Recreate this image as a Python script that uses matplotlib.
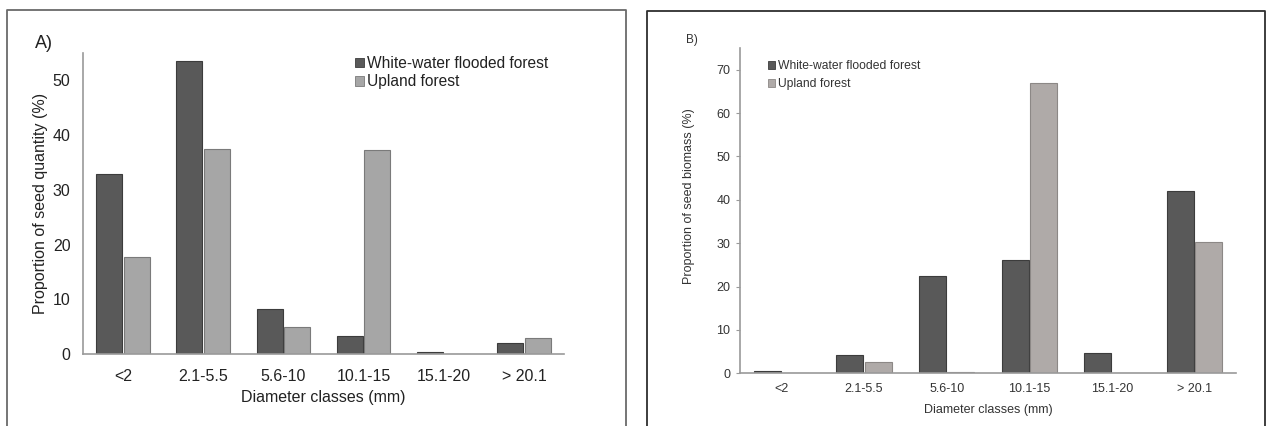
import numpy as np
import matplotlib.pyplot as plt
from matplotlib.lines import Line2D
from matplotlib.patches import Patch

plt.rcParams['font.family'] = ['Liberation Sans', 'DejaVu Sans']

# data
classes = ["<2", "2.1-5.5", "5.6-10", "10.1-15", "15.1-20", "> 20.1"]
series_names = ["White-water flooded forest", "Upland forest"]

# panel A: proportion of seed quantity (%)
quantity_flooded = [32.8, 53.6, 8.3, 3.2, 0.3, 2.1]
quantity_upland = [17.7, 37.4, 4.9, 37.2, 0.0, 2.9]

# panel B: proportion of seed biomass (%)
biomass_flooded = [0.5, 4.3, 22.5, 26.2, 4.6, 42.0]
biomass_upland = [0.1, 2.6, 0.2, 67.0, 0.0, 30.3]

dark = "#595959"
dark_edge = "#3c3c3c"
lightA = "#a6a6a6"
lightA_edge = "#7a7a7a"
lightB = "#afaaa8"
lightB_edge = "#8c8886"
axis_col = "#9a9a9a"

fig = plt.figure(figsize=(12.69, 4.26), dpi=100)
W, H = 1269, 426

# outer frames around each panel (bottom edge is off the image)
def frame(x0, x1, ytop, col, lw):
    xs = [x0 / W, x0 / W, x1 / W, x1 / W]
    ys = [-0.05, 1 - ytop / H, 1 - ytop / H, -0.05]
    fig.add_artist(Line2D(xs, ys, color=col, lw=lw, transform=fig.transFigure))

frame(7, 626, 10, "#6a6a6a", 1.3)
frame(647, 1265, 11, "#2e2e2e", 1.3)

x = np.arange(len(classes))
bw = 0.325
off = 0.172

# ---------------- panel A ----------------
axA = fig.add_axes([83 / W, 1 - 354 / H, (564 - 83) / W, (354 - 53) / H])
axA.bar(x - off, quantity_flooded, bw, color=dark, edgecolor=dark_edge, linewidth=0.8)
axA.bar(x + off, quantity_upland, bw, color=lightA, edgecolor=lightA_edge, linewidth=0.8)
axA.set_xlim(-0.5, 5.5)
axA.set_ylim(0, 55)
axA.set_yticks([0, 10, 20, 30, 40, 50])
axA.set_xticks(x)
axA.set_xticklabels(classes)
axA.tick_params(axis="x", length=0, pad=11, labelsize=11.5, labelcolor="#222222")
axA.tick_params(axis="y", length=0, pad=9, labelsize=11.5, labelcolor="#222222")
for s in ["top", "right"]:
    axA.spines[s].set_visible(False)
for s in ["left", "bottom"]:
    axA.spines[s].set_color(axis_col)
    axA.spines[s].set_linewidth(1.2)
axA.set_ylabel("Proportion of seed quantity (%)", fontsize=11.5, color="#222222")
axA.yaxis.set_label_coords(-0.073, 0.5)
axA.set_xlabel("Diameter classes (mm)", fontsize=11.5, color="#222222", va="center")
axA.xaxis.set_label_coords(0.5, -0.143)
handlesA = [Patch(facecolor=dark, edgecolor=dark_edge, linewidth=0.6),
            Patch(facecolor=lightA, edgecolor=lightA_edge, linewidth=0.6)]
fig.legend(handlesA, series_names, loc="upper left",
           bbox_to_anchor=(355 / W, 1 - 56 / H), frameon=False, fontsize=11.2,
           handlelength=0.55, handleheight=0.55, handletextpad=0.25,
           labelspacing=0.22, borderpad=0, borderaxespad=0,
           labelcolor="#222222")
fig.text(35 / W, 1 - 43 / H, "A)", fontsize=13, va="center", color="#222222")

# ---------------- panel B ----------------
axB = fig.add_axes([740 / W, 1 - 373.3 / H, (1236 - 740) / W, (373.3 - 48) / H])
axB.bar(x - off, biomass_flooded, bw, color=dark, edgecolor=dark_edge, linewidth=0.8)
axB.bar(x + off, biomass_upland, bw, color=lightB, edgecolor=lightB_edge, linewidth=0.8)
axB.set_xlim(-0.5, 5.5)
axB.set_ylim(0, 75)
axB.set_yticks([0, 10, 20, 30, 40, 50, 60, 70])
axB.set_xticks(x)
axB.set_xticklabels(classes)
axB.tick_params(axis="x", length=0, pad=7, labelsize=9, labelcolor="#333333")
axB.tick_params(axis="y", length=3, width=0.8, color=axis_col, pad=4,
                labelsize=9, labelcolor="#333333")
for s in ["top", "right"]:
    axB.spines[s].set_visible(False)
for s in ["left", "bottom"]:
    axB.spines[s].set_color(axis_col)
    axB.spines[s].set_linewidth(1.2)
axB.set_ylabel("Proportion of seed biomass (%)", fontsize=9, color="#333333")
axB.yaxis.set_label_coords(-0.091, 0.545)
axB.set_xlabel("Diameter classes (mm)", fontsize=9, color="#333333", va="center")
axB.xaxis.set_label_coords(0.5, -0.114)
handlesB = [Patch(facecolor=dark, edgecolor=dark_edge, linewidth=0.6),
            Patch(facecolor=lightB, edgecolor=lightB_edge, linewidth=0.6)]
fig.legend(handlesB, series_names, loc="upper left",
           bbox_to_anchor=(768 / W, 1 - 60 / H), frameon=False, fontsize=8.7,
           handlelength=0.6, handleheight=0.6, handletextpad=0.25,
           labelspacing=0.5, borderpad=0, borderaxespad=0,
           labelcolor="#333333")
fig.text(686 / W, 1 - 40 / H, "B)", fontsize=8.5, va="center", color="#333333")

fig.savefig("out.png", dpi=100)
